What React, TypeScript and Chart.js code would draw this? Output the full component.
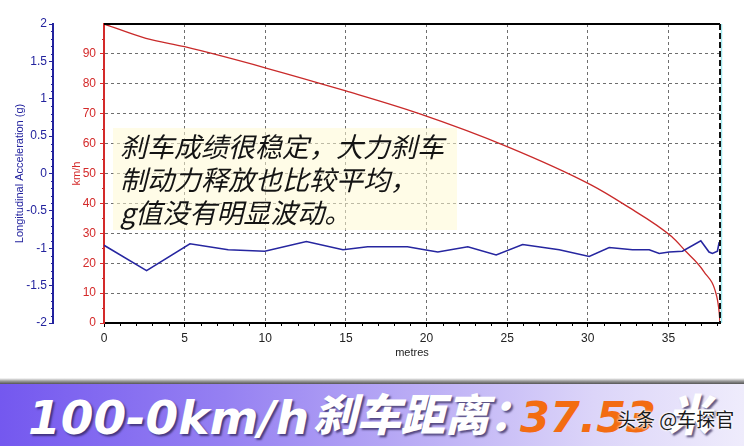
import React, { useEffect, useRef } from "react";
import { Chart, registerables } from "chart.js";
Chart.register(...registerables);

// distance (m) vs speed (km/h)
const speedDist = [0, 2.6, 5.0, 10.1, 15.0, 19.5, 25.0, 30.2, 32.3, 35.2, 36.0, 37.2, 38.0, 38.15, 38.2];
const speedKmh = [100, 95.2, 92.4, 85.2, 77.6, 70.1, 59.0, 46.2, 39.5, 28.9, 24.4, 17.2, 8.8, 3.5, 0];

// distance (m) vs longitudinal acceleration (g)
const accelDist = [0, 2.64, 5.33, 7.7, 9.97, 12.55, 14.82, 16.35, 18.82, 19.88, 20.7, 22.56, 24.32, 25.96, 28.23, 30.09, 31.33, 32.77, 33.81, 34.43, 35.05, 35.87, 37.01, 37.52, 37.73, 38.04, 38.15];
const accelG = [-0.96, -1.3, -0.94, -1.02, -1.04, -0.91, -1.02, -0.98, -0.98, -1.02, -1.05, -0.98, -1.09, -0.95, -1.02, -1.11, -0.99, -1.02, -1.02, -1.07, -1.05, -1.04, -0.9, -1.05, -1.07, -1.04, -0.92];

const xTitle = "metres";
const speedTitle = "km/h";
const accelTitle = "Longitudinal Acceleration (g)";
const overlayLines = ["刹车成绩很稳定，大力刹车", "制动力释放也比较平均，", "g值没有明显波动。"];
const bannerMain = "100-0km/h";
const bannerCn = "刹车距离：";
const bannerValue = "37.53";
const bannerUnit = "米";
const watermark = "头条 @车探官";

const BLUE = "#23239e";
const RED = "#d42a2a";

const framePlugin = {
  id: "frame",
  afterDraw(chart: any) {
    const { ctx, chartArea: a, scales } = chart;
    ctx.save();
    ctx.strokeStyle = "#000";
    ctx.lineWidth = 2;
    ctx.beginPath();
    ctx.moveTo(a.left, a.top);
    ctx.lineTo(a.right, a.top);
    ctx.stroke();
    ctx.strokeStyle = "#9ee8ee";
    ctx.lineWidth = 1.5;
    ctx.beginPath();
    ctx.moveTo(a.right + 1.5, a.top);
    ctx.lineTo(a.right + 1.5, a.bottom);
    ctx.stroke();
    ctx.strokeStyle = "#111";
    ctx.lineWidth = 2;
    ctx.setLineDash([6, 3]);
    ctx.beginPath();
    ctx.moveTo(a.right, a.top);
    ctx.lineTo(a.right, a.bottom);
    ctx.stroke();
    ctx.setLineDash([]);
    const xs = scales.x;
    ctx.strokeStyle = "#000";
    ctx.lineWidth = 1;
    for (let m = 1; m <= 38; m++) {
      if (m % 5 === 0) continue;
      const px = Math.round(xs.getPixelForValue(m)) + 0.5;
      ctx.beginPath();
      ctx.moveTo(px, a.bottom);
      ctx.lineTo(px, a.bottom + 3);
      ctx.stroke();
    }
    const ya = scales.y1;
    ctx.strokeStyle = BLUE;
    for (let i = -20; i <= 20; i++) {
      if (i % 5 === 0) continue;
      const py = Math.round(ya.getPixelForValue(i / 10)) + 0.5;
      ctx.beginPath();
      ctx.moveTo(ya.right - 2, py);
      ctx.lineTo(ya.right, py);
      ctx.stroke();
    }
    const ys = scales.y;
    ctx.strokeStyle = RED;
    for (let v = 5; v < 100; v += 10) {
      const py = Math.round(ys.getPixelForValue(v)) + 0.5;
      ctx.beginPath();
      ctx.moveTo(ys.right - 2, py);
      ctx.lineTo(ys.right, py);
      ctx.stroke();
    }
    ctx.restore();
  },
};

function ChartCanvas() {
  const ref = useRef<HTMLCanvasElement>(null);
  useEffect(() => {
    if (!ref.current) return;
    const chart = new Chart(ref.current, {
      type: "line",
      data: {
        datasets: [
          {
            label: "accel",
            data: accelDist.map((d, i) => ({ x: d, y: accelG[i] })),
            yAxisID: "y1",
            borderColor: "#2626a0",
            borderWidth: 1.6,
            pointRadius: 0,
            tension: 0,
          },
          {
            label: "speed",
            data: speedDist.map((d, i) => ({ x: d, y: speedKmh[i] })),
            yAxisID: "y",
            borderColor: "#c92a2a",
            borderWidth: 1.3,
            pointRadius: 0,
            cubicInterpolationMode: "monotone",
          },
        ],
      },
      options: {
        responsive: false,
        animation: false,
        events: [],
        layout: { padding: { top: 24, right: 24, bottom: 12, left: 0 } },
        plugins: { legend: { display: false }, tooltip: { enabled: false } },
        scales: {
          x: {
            type: "linear",
            min: 0,
            max: 38.2,
            afterFit: (s: any) => { s.height = 45; },
            ticks: { stepSize: 5, includeBounds: false, color: "#222", font: { size: 12 }, padding: 4, maxRotation: 0 },
            grid: { color: "#6e6e6e", lineWidth: 1, tickLength: 4, tickColor: "#000", drawTicks: true },
            border: { display: true, color: "#000", width: 2, dash: [3, 3] },
            title: { display: true, text: xTitle, color: "#222", font: { size: 11 }, padding: { top: 0, bottom: 8 } },
          },
          y1: {
            type: "linear",
            position: "left",
            weight: 1,
            min: -2,
            max: 2,
            afterFit: (s: any) => { s.width = 53; },
            ticks: { stepSize: 0.5, color: BLUE, font: { size: 12 }, padding: 2, callback: (v: any) => String(v) },
            grid: { drawOnChartArea: false, drawTicks: true, tickLength: 4, tickColor: BLUE },
            border: { display: true, color: BLUE, width: 2 },
            title: { display: true, text: accelTitle, color: BLUE, font: { size: 11 }, padding: { top: 13, bottom: 0 } },
          },
          y: {
            type: "linear",
            position: "left",
            weight: 0,
            min: 0,
            max: 100,
            afterFit: (s: any) => { s.width = 51; },
            ticks: {
              stepSize: 10,
              color: RED,
              font: { size: 12 },
              padding: 4,
              callback: (v: any) => (v === 100 ? null : String(v)),
            },
            grid: { color: "#6e6e6e", lineWidth: 1, tickLength: 4, tickColor: RED, drawTicks: true },
            border: { display: true, color: RED, width: 2, dash: [3, 3] },
            title: { display: true, text: speedTitle, color: RED, font: { size: 11 }, padding: { top: 17, bottom: 0 } },
          },
        },
      },
      plugins: [framePlugin],
    } as any);
    return () => chart.destroy();
  }, []);
  return <canvas ref={ref} width={744} height={380} style={{ display: "block" }} />;
}

export default function App() {
  Chart.defaults.font.family = "'Liberation Sans', Arial, sans-serif";
  const heavy: React.CSSProperties = {
    position: "absolute",
    whiteSpace: "nowrap",
    lineHeight: 1,
    fontStyle: "italic",
    fontWeight: 900,
  };
  return (
    <div style={{ position: "absolute", left: 0, top: 0, width: 744, height: 446, background: "#fff", overflow: "hidden" }}>
      <ChartCanvas />
      <div
        style={{
          position: "absolute",
          left: 113,
          top: 128,
          width: 344,
          height: 102,
          background: "rgba(255,250,212,0.55)",
        }}
      >
        {overlayLines.map((t, i) => (
          <div
            key={i}
            style={{
              position: "absolute",
              left: 7,
              top: 1 + i * 33,
              fontFamily: "'Noto Sans CJK SC', sans-serif",
              fontSize: 27,
              fontStyle: "italic",
              lineHeight: "33px",
              color: "#141414",
              whiteSpace: "nowrap",
            }}
          >
            {t}
          </div>
        ))}
      </div>
      <div style={{ position: "absolute", left: 0, top: 378, width: 744, height: 68, overflow: "hidden" }}>
        <div style={{ position: "absolute", left: 0, top: 0, width: 744, height: 7, background: "linear-gradient(#ffffff, #9a9a9a 45%, #3c3c3c)" }} />
        <div
          style={{
            position: "absolute",
            left: 0,
            top: 6,
            width: 744,
            height: 62,
            background: "linear-gradient(90deg, #7458ef 0%, #9580f2 30%, #b9abf5 55%, #dcd5f9 80%, #efecfc 100%)",
          }}
        />
        <div style={{ ...heavy, left: 28, top: 16, fontFamily: "'DejaVu Sans', sans-serif", fontSize: 47, color: "#fff", textShadow: "2px 2px 2px rgba(40,30,80,0.7)" }}>
          {bannerMain}
        </div>
        <div style={{ ...heavy, left: 313, top: 12, fontFamily: "'Noto Sans CJK SC', sans-serif", fontSize: 44, color: "#fff", textShadow: "2px 2px 2px rgba(40,30,80,0.7)" }}>
          {bannerCn}
        </div>
        <div style={{ ...heavy, left: 520, top: 18, fontFamily: "'DejaVu Sans', sans-serif", fontSize: 43, color: "#f36c12" }}>
          {bannerValue}
        </div>
        <div style={{ ...heavy, left: 667, top: 12, fontFamily: "'Noto Sans CJK SC', sans-serif", fontSize: 44, color: "#fff", textShadow: "2px 2px 2px rgba(40,30,80,0.7)" }}>
          {bannerUnit}
        </div>
        <div
          style={{
            position: "absolute",
            left: 617,
            top: 31,
            whiteSpace: "nowrap",
            lineHeight: 1,
            fontFamily: "'Noto Sans CJK SC', sans-serif",
            fontSize: 19,
            color: "#1a1a1a",
            textShadow: "0 0 2px #fff, 0 0 2px #fff, 0 0 3px #fff",
          }}
        >
          {watermark}
        </div>
      </div>
    </div>
  );
}
